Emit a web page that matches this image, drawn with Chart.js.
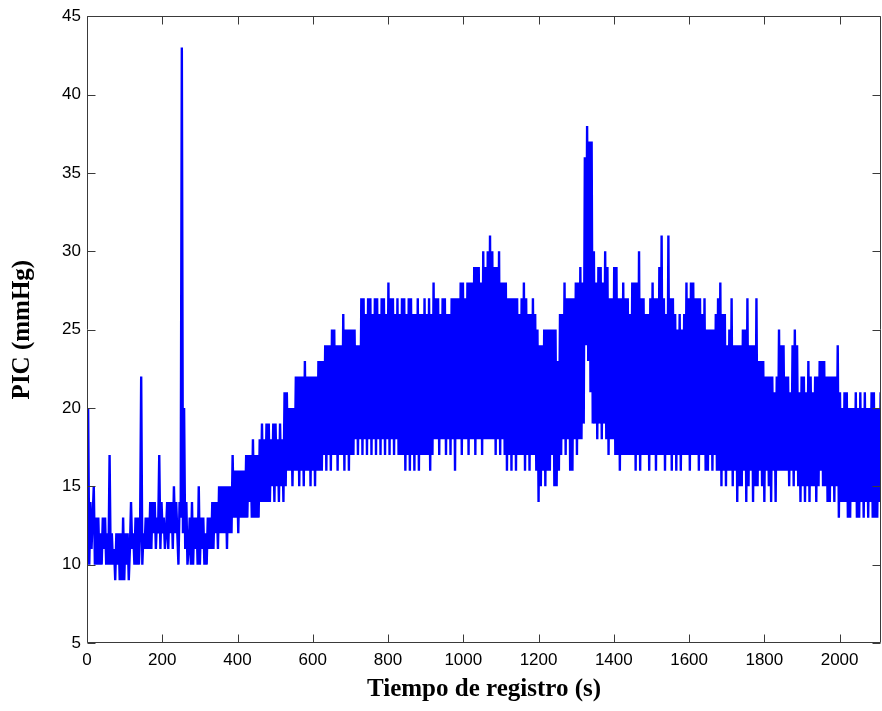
<!DOCTYPE html>
<html>
<head>
<meta charset="utf-8">
<script src="https://cdn.jsdelivr.net/npm/chart.js@4.4.1/dist/chart.umd.min.js"></script>
<style>
  html, body { margin: 0; padding: 0; background: #ffffff; }
  #wrap { width: 882px; height: 711px; position: relative; }
</style>
</head>
<body>
<div id="wrap"><canvas id="c"></canvas></div>
<script>
// Sampling interval of the recording (seconds between samples)
const sampleInterval = 3;

// PIC values (mmHg), in consecutive 300 s blocks
const pic0000 = [11,20,10,14,11,13,15,10,13,10, 13,10,12,10,13,11,13,10,12,10, 17,10,12,10,11,9,12,10,12,9,
  12,9,13,9,12,10,12,9,11,14, 11,12,10,13,10,13,10,12,22,10, 12,11,13,11,13,11,14,11,14,12,
  14,11,13,12,17,11,14,12,13,11, 12,14,11,14,12,14,11,15,12,14, 12,10,14,13,43,12,20,11,14,10,
  11,13,10,14,10,13,11,13,10,15];
const pic0300 = [10,13,11,13,10,12,10,13,11,13, 11,14,11,14,12,14,11,15,12,15, 12,15,12,15,11,15,12,15,12,17,
  13,16,13,16,12,16,13,16,13,16, 13,17,13,17,14,17,13,18,13,17, 13,17,13,18,14,19,14,18,14,19,
  14,19,14,18,15,19,14,19,15,18, 14,19,15,18,14,21,15,21,16,20, 16,20,15,20,16,22,16,22,15,22,
  16,22,15,23,16,22,16,22,15,22];
const pic0600 = [16,22,15,22,16,23,16,23,16,23, 17,24,16,24,17,24,16,25,17,25, 17,24,16,24,17,24,17,26,16,25,
  17,25,16,25,17,25,17,25,18,24, 17,24,18,27,17,27,18,26,17,27, 18,27,17,26,18,27,17,27,18,26,
  17,27,18,27,17,26,18,28,17,27, 18,27,17,26,18,27,17,26,17,27, 17,27,16,26,17,27,16,27,17,26,
  16,26,17,27,16,26,17,26,17,27];
const pic0900 = [17,26,17,27,16,26,17,28,18,27, 18,27,17,26,18,27,18,27,17,26, 18,26,17,27,18,27,16,27,18,27,
  18,28,17,28,18,27,18,28,17,28, 18,28,18,29,17,29,18,29,18,28, 17,30,18,29,18,30,18,31,18,30,
  18,29,17,29,18,30,17,28,18,28, 17,28,16,27,17,27,16,27,17,27, 16,27,17,26,17,27,17,28,16,27,
  17,26,16,26,17,27,17,26,16,25];
const pic1200 = [14,24,15,24,16,25,15,25,16,25, 16,25,17,25,15,25,15,23,16,26, 17,26,18,28,17,27,18,27,16,27,
  16,27,18,28,17,28,18,29,18,28, 19,36,24,38,23,37,21,37,19,30, 19,28,18,29,19,29,18,28,19,30,
  18,29,17,27,18,27,18,29,17,29, 17,27,16,27,17,28,17,27,17,27, 17,26,17,28,17,28,16,28,17,30,
  16,27,17,27,17,26,17,26,16,27];
const pic1500 = [17,28,17,27,16,27,17,29,17,31, 17,27,16,26,17,31,17,27,16,27, 17,26,16,25,17,26,16,25,17,26,
  17,28,17,27,16,28,17,28,17,27, 17,27,16,27,17,26,17,27,16,25, 16,25,17,25,16,25,17,26,16,27,
  16,28,15,26,16,26,15,24,16,25, 16,27,15,24,16,24,14,24,15,24, 15,25,16,25,14,27,15,24,16,24,
  14,24,15,27,15,23,16,23,15,23];
const pic1800 = [14,22,16,22,15,22,14,22,16,21, 14,22,16,25,16,24,16,24,16,22, 16,22,15,21,16,24,15,25,16,24,
  15,21,14,22,15,22,14,21,15,23, 14,22,15,21,15,22,14,22,15,23, 16,23,15,23,15,22,14,22,14,22,
  15,22,14,22,15,24,13,21,14,20, 14,21,14,21,13,20,13,20,14,20, 14,21,13,20,13,21,14,20,13,21,
  14,20,13,20,14,21,13,21,13,20, 13,20,14,21];

// Axis ticks
const xTickValues = [0,200,400,600,800,1000,1200,1400,1600,1800,2000];
const xTickLabels = ['0','200','400','600','800','1000','1200','1400','1600','1800','2000'];
const yTickValues = [5,10,15,20,25,30,35,40,45];
const yTickLabels = ['5','10','15','20','25','30','35','40','45'];
const xRange = [0, 2110];
const yRange = [5, 45];
const xTitle = 'Tiempo de registro (s)';
const yTitle = 'PIC (mmHg)';

const picValues = [].concat(pic0000, pic0300, pic0600, pic0900, pic1200, pic1500, pic1800);
const points = picValues.map((v, i) => ({ x: i * sampleInterval, y: v }));

const frameColor = '#3a3a3a';
const framePlugin = {
  id: 'matlabFrame',
  afterDatasetsDraw(chart) {
    const { ctx, chartArea: a, scales } = chart;
    const xs = scales.x, ys = scales.y;
    const L = Math.round(a.left) + 0.5, R = Math.round(a.right) - 0.5;
    const T = Math.round(a.top) + 0.5, B = Math.round(a.bottom) - 0.5;
    const tl = 8;
    ctx.save();
    ctx.strokeStyle = frameColor;
    ctx.lineWidth = 1;
    ctx.beginPath();
    ctx.rect(L, T, R - L, B - T);
    xTickValues.forEach(v => {
      const px = Math.round(xs.getPixelForValue(v)) + 0.5;
      ctx.moveTo(px, B); ctx.lineTo(px, B - tl);
      ctx.moveTo(px, T); ctx.lineTo(px, T + tl);
    });
    yTickValues.forEach(v => {
      const py = Math.round(ys.getPixelForValue(v)) + 0.5;
      ctx.moveTo(L, py); ctx.lineTo(L + tl, py);
      ctx.moveTo(R, py); ctx.lineTo(R - tl, py);
    });
    ctx.stroke();
    ctx.restore();
  }
};

const tickFont = { family: "'Liberation Sans', Arial, Helvetica, sans-serif", size: 17 };
const titleFont = { family: "'Liberation Serif', 'Times New Roman', serif", size: 25, weight: 'bold' };

new Chart(document.getElementById('c'), {
  type: 'line',
  data: {
    datasets: [{
      data: points,
      borderColor: '#0000ff',
      borderWidth: 2.4,
      pointRadius: 0,
      tension: 0,
      fill: false
    }]
  },
  options: {
    responsive: true,
    maintainAspectRatio: false,
    animation: false,
    events: [],
    layout: { padding: { left: 0, right: 1, top: 15, bottom: 0 } },
    plugins: { legend: { display: false }, tooltip: { enabled: false } },
    scales: {
      x: {
        type: 'linear',
        min: xRange[0], max: xRange[1],
        grid: { display: false, drawTicks: false },
        border: { display: false },
        afterBuildTicks: (s) => { s.ticks = xTickValues.map(v => ({ value: v })); },
        ticks: {
          autoSkip: false, maxRotation: 0, padding: 7,
          color: '#000', font: tickFont,
          callback: (v) => { const i = xTickValues.indexOf(v); return i >= 0 ? xTickLabels[i] : ''; }
        },
        title: { display: true, text: xTitle, color: '#000', font: titleFont, padding: { top: 0, bottom: 6 } },
        afterFit: (s) => { s.height = 68; s.paddingRight = 0; }
      },
      y: {
        type: 'linear',
        min: yRange[0], max: yRange[1],
        grid: { display: false, drawTicks: false },
        border: { display: false },
        afterBuildTicks: (s) => { s.ticks = yTickValues.map(v => ({ value: v })); },
        ticks: {
          autoSkip: false, padding: 6,
          color: '#000', font: tickFont,
          callback: (v) => { const i = yTickValues.indexOf(v); return i >= 0 ? yTickLabels[i] : ''; }
        },
        title: { display: true, text: yTitle, color: '#000', font: titleFont, padding: { top: 8, bottom: 0 } },
        afterFit: (s) => { s.width = 87; }
      }
    }
  },
  plugins: [framePlugin]
});
</script>
</body>
</html>
